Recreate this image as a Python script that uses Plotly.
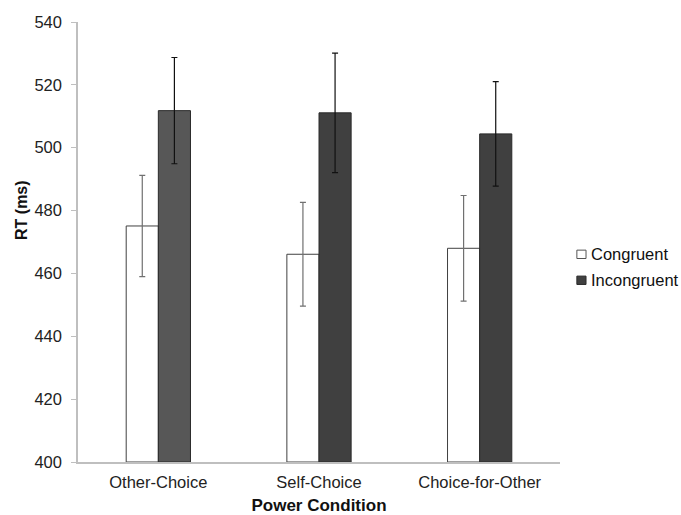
import plotly.graph_objects as go

# Mean reaction times by power condition and trial type
conditions = ["Other-Choice", "Self-Choice", "Choice-for-Other"]
congruent_rt = [475.1, 466.1, 468.0]
congruent_err = [16.1, 16.5, 16.8]
incongruent_rt = [511.8, 511.1, 504.4]
incongruent_err = [16.9, 19.0, 16.6]
y_ticks = [400, 420, 440, 460, 480, 500, 520, 540]
series_names = ["Congruent", "Incongruent"]

FONT = "Liberation Sans, Arial, sans-serif"
CONG_FILL, CONG_LINE = "white", "#404040"
INC_FILL, INC_LINE = "#404040", "#2a2a2a"

fig = go.Figure()

fig.add_trace(go.Bar(
    name=series_names[0],
    x=conditions,
    y=[v - 400 for v in congruent_rt],
    base=400,
    marker=dict(color=CONG_FILL, line=dict(color=CONG_LINE, width=1)),
    error_y=dict(type="data", array=congruent_err, color="#707070",
                 thickness=1.2, width=3),
    showlegend=False,
))

fig.add_trace(go.Bar(
    name=series_names[1],
    x=conditions,
    y=[v - 400 for v in incongruent_rt],
    base=400,
    marker=dict(color=["#575757", INC_FILL, INC_FILL],
                line=dict(color=INC_LINE, width=1)),
    error_y=dict(type="data", array=incongruent_err, color="#111111",
                 thickness=1.2, width=3),
    showlegend=False,
))

# Compact legend to the right of the plot: swatch + label per series
legend_rows = [(series_names[0], CONG_FILL, "#555555", 0.472),
               (series_names[1], INC_FILL, INC_LINE, 0.413)]
for label, fill, edge, yc in legend_rows:
    fig.add_shape(type="rect", xref="paper", yref="paper",
                  x0=1.035, x1=1.054, y0=yc - 0.0095, y1=yc + 0.0095,
                  fillcolor=fill, line=dict(color=edge, width=1))
    fig.add_annotation(text=label, xref="paper", yref="paper",
                       x=1.061, y=yc, xanchor="left", yanchor="middle",
                       showarrow=False,
                       font=dict(family=FONT, size=16.5, color="#111111"))

# Vertical y-axis title, sitting a little above the middle of the axis
fig.add_annotation(text="<b>RT (ms)</b>", xref="paper", yref="paper",
                   x=-0.116, y=0.573, xanchor="center", yanchor="middle",
                   textangle=-90, showarrow=False,
                   font=dict(family=FONT, size=16, color="#111111"))

fig.update_layout(
    width=681,
    height=515,
    barmode="group",
    bargap=0.6,
    bargroupgap=0,
    plot_bgcolor="white",
    paper_bgcolor="white",
    margin=dict(l=78, r=121, t=22, b=53, autoexpand=False),
    font=dict(family=FONT, size=16, color="#222222"),
    showlegend=False,
    xaxis=dict(
        showline=True, linecolor="#bfbfbf", linewidth=1.5,
        ticks="", showgrid=False,
        ticklabelstandoff=4,
        tickfont=dict(family=FONT, size=16.5, color="#222222"),
        title=dict(text="<b>Power Condition</b>", standoff=10,
                   font=dict(family=FONT, size=17, color="#111111")),
    ),
    yaxis=dict(
        range=[400, 540],
        tickvals=y_ticks,
        showline=True, linecolor="#bfbfbf", linewidth=1.5,
        ticks="outside", ticklen=5, tickcolor="#bfbfbf",
        ticklabelstandoff=6,
        showgrid=False, zeroline=False,
        tickfont=dict(family=FONT, size=16.5, color="#222222"),
    ),
)

fig.write_html("out.html")
